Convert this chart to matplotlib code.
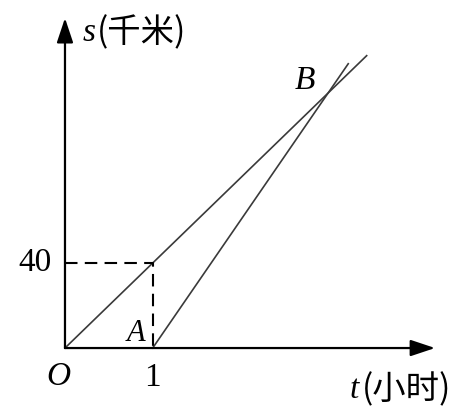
import matplotlib
matplotlib.use("Agg")
from matplotlib import pyplot as plt

# car A: leaves at t=0, 40 km/h
t_a = [0, 1, 3.44]
s_a = [0, 40, 137.6]
# car B: leaves at t=1, 60 km/h, meets A at B
t_b = [1, 3, 3.23]
s_b = [0, 120, 133.8]
# dashed helper lines through (1, 40)
t_dash = [0, 1, 1]
s_dash = [40, 40, 0]

tick_t = 1
tick_s = 40

serif = ['Liberation Serif', 'DejaVu Serif']
cjk = ['Noto Sans CJK SC', 'DejaVu Sans']

fig = plt.figure(figsize=(4.69, 4.19), dpi=100)
ax = fig.add_axes([0, 0, 1, 1])
ax.set_xlim(-0.741, 4.607)
ax.set_ylim(-33.4, 163.8)
ax.axis('off')

# axes with arrows
arrow = dict(arrowstyle='-|>,head_length=0.75,head_width=0.25', lw=1.6,
             color='black', mutation_scale=20, shrinkA=0, shrinkB=0)
ax.annotate('', xy=(4.22, 0), xytext=(0, 0), arrowprops=arrow)
ax.annotate('', xy=(0, 155.3), xytext=(0, 0), arrowprops=arrow)

ax.plot(t_a, s_a, color='#3a3a3a', lw=1.2)
ax.plot(t_b, s_b, color='#3a3a3a', lw=1.2)
ax.plot(t_dash, s_dash, color='black', lw=1.5, dashes=(6, 3.5))

# tick labels
ax.text(-0.15, tick_s, str(tick_s), fontsize=24, family=serif, ha='right', va='center')
ax.text(tick_t, -14, str(tick_t), fontsize=24, family=serif, ha='center', va='center')
ax.text(-0.08, -13.5, 'O', fontsize=24, family=serif, style='italic', ha='center', va='center')

# point labels
ax.text(0.81, 7, 'A', fontsize=22, family=serif, style='italic', ha='center', va='center')
ax.text(2.74, 125.6, 'B', fontsize=24, family=serif, style='italic', ha='center', va='center')

# axis labels
ax.text(0.205, 148.2, 's', fontsize=24, family=serif, style='italic', ha='left', va='center')
ax.text(0.36, 148.2, '(千米)', fontsize=24, family=cjk, weight='light', ha='left', va='center')
ax.text(3.25, -19.8, 't', fontsize=24, family=serif, style='italic', ha='left', va='center')
ax.text(3.38, -19.8, '(小时)', fontsize=24, family=cjk, weight='light', ha='left', va='center')

fig.savefig('out.png', dpi=100)
